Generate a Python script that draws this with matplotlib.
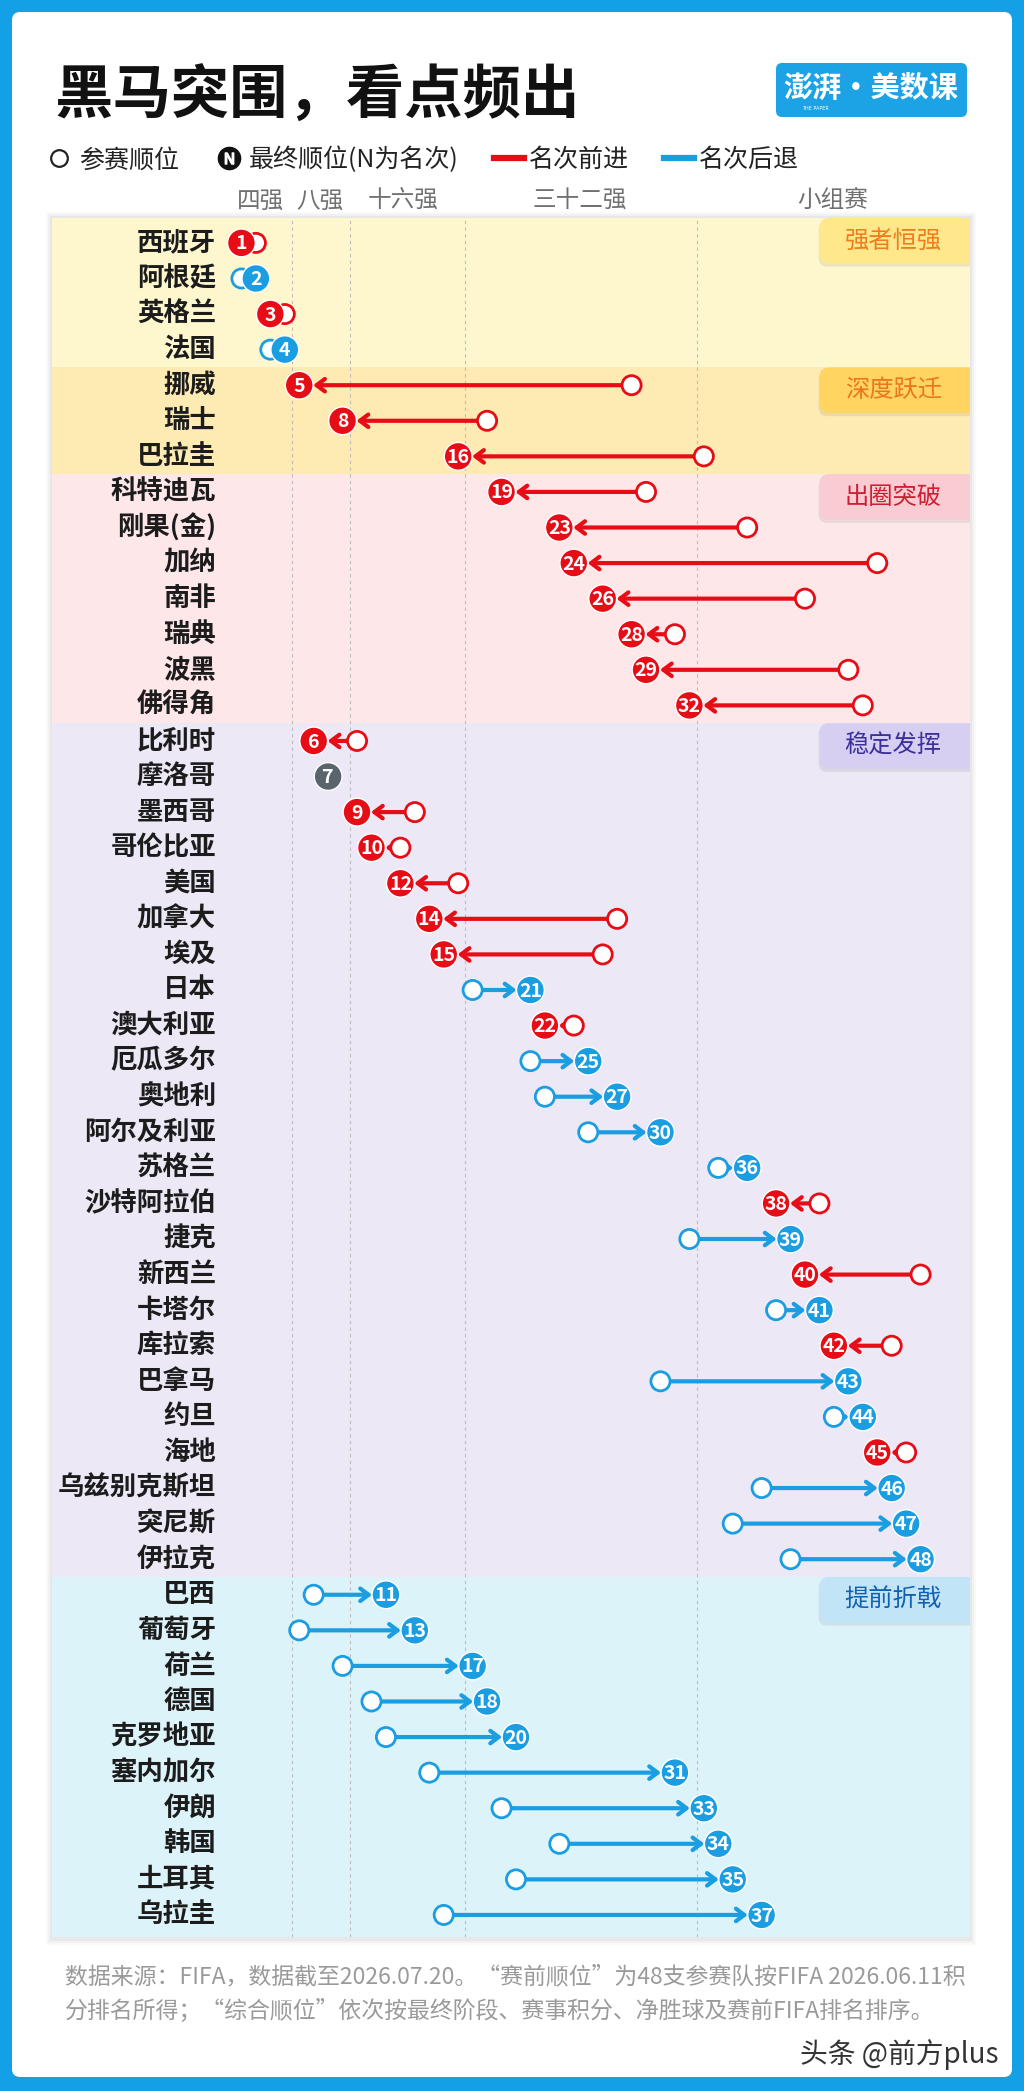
"""Dark horses chart: pre-tournament rank vs final rank"""
import matplotlib
matplotlib.use("Agg")
import numpy as np
import matplotlib.pyplot as plt
from matplotlib import font_manager
from matplotlib.lines import Line2D
from matplotlib.patches import FancyBboxPatch, Rectangle
from matplotlib.legend_handler import HandlerTuple

plt.rcParams["font.family"] = ["Noto Sans CJK SC", "DejaVu Sans"]

TEAMS = [
    "西班牙", "阿根廷", "英格兰", "法国",
    "挪威", "瑞士", "巴拉圭",
    "科特迪瓦", "刚果(金)", "加纳", "南非", "瑞典", "波黑", "佛得角",
    "比利时", "摩洛哥", "墨西哥", "哥伦比亚", "美国", "加拿大", "埃及", "日本",
    "澳大利亚", "厄瓜多尔", "奥地利", "阿尔及利亚", "苏格兰", "沙特阿拉伯", "捷克",
    "新西兰", "卡塔尔", "库拉索", "巴拿马", "约旦", "海地", "乌兹别克斯坦",
    "突尼斯", "伊拉克",
    "巴西", "葡萄牙", "荷兰", "德国", "克罗地亚", "塞内加尔", "伊朗", "韩国",
    "土耳其", "乌拉圭",
]
START_RANK = [
    2, 1, 4, 3,
    28, 18, 33,
    29, 36, 45, 40, 31, 43, 44,
    9, 7, 13, 12, 16, 27, 26, 17, 24, 21, 22, 25, 34, 41, 32, 48, 38, 46, 30,
    42, 47, 37, 35, 39,
    6, 5, 8, 10, 11, 14, 19, 23, 20, 15,
]
FINAL_RANK = [
    1, 2, 3, 4,
    5, 8, 16,
    19, 23, 24, 26, 28, 29, 32,
    6, 7, 9, 10, 12, 14, 15, 21, 22, 25, 27, 30, 36, 38, 39, 40, 41, 42, 43,
    44, 45, 46, 47, 48,
    11, 13, 17, 18, 20, 31, 33, 34, 35, 37,
]
GROUP_NAMES = ["强者恒强", "深度跃迁", "出圈突破", "稳定发挥", "提前折戟"]
GROUP_SIZES = [4, 3, 7, 24, 10]
STAGE_LABELS = ["四强", "八强", "十六强", "三十二强", "小组赛"]
STAGE_TICKS = [2.3, 6.4, 12.2, 24.4, 41.9]
STAGE_BOUNDS = [4.5, 8.5, 16.5, 32.5]

RED = "#E60D17"
BLUE = "#1B9DE2"
GRAY = "#59646D"
FRAME = "#13A0E6"
BAND_COLORS = ["#FEF7CE", "#FDEBB3", "#FDE7E9", "#ECE8F6", "#DDF3FA"]
BOX_COLORS = ["#FFE88C", "#FFD460", "#F9CCD4", "#D7CFF1", "#C1E4F7"]
BOX_TEXT = ["#F07D1C", "#EC7619", "#CD1F31", "#3B2F9B", "#1161B1"]

W, H = 1024, 2091


def fx(x):
    return x / W


def fy(y):
    return 1 - y / H


names = {f.name for f in font_manager.fontManager.ttflist}
NUM_FONT = "Liberation Sans Narrow" if "Liberation Sans Narrow" in names else "Noto Sans CJK SC"
NUM_SIZE = 16.5 if NUM_FONT == "Liberation Sans Narrow" else 14

fig = plt.figure(figsize=(W / 100, H / 100), dpi=100, facecolor=FRAME)

# white card inside the blue frame
fig.patches.append(FancyBboxPatch(
    (fx(12), fy(2077)), fx(1012) - fx(12), fy(12) - fy(2077),
    boxstyle="round,pad=0,rounding_size=0.008", mutation_aspect=W / H,
    transform=fig.transFigure, fc="white", ec="none", zorder=-2))

# soft shadow around the panel
for grow, alpha in [(6, 0.025), (4, 0.03), (2, 0.04)]:
    fig.patches.append(Rectangle(
        (fx(52 - grow), fy(1937 + grow + 2)),
        fx(970 + grow) - fx(52 - grow), fy(218 - grow) - fy(1937 + grow + 2),
        transform=fig.transFigure, fc="black", alpha=alpha, ec="none", zorder=-1))

ax = fig.add_axes([fx(52), fy(1937), fx(970) - fx(52), fy(218) - fy(1937)])
ax.set_zorder(1)
ax.set_xlim(-12.11, 51.42)
ax.set_ylim(47.62, -0.70)
for s in ax.spines.values():
    s.set_visible(False)
ax.set_yticks([])

# stage labels on top
ax.xaxis.tick_top()
ax.set_xticks(STAGE_TICKS, STAGE_LABELS)
ax.tick_params(axis="x", length=0, pad=4, labelsize=17, labelcolor="#707070")

# group bands
edges = np.cumsum([0] + GROUP_SIZES)
y_top, y_bot = ax.get_ylim()[1], ax.get_ylim()[0]
xpx = (970 - 52) / (ax.get_xlim()[1] - ax.get_xlim()[0])
ypx = (1937 - 218) / (y_bot - y_top)
for k in range(len(GROUP_SIZES)):
    lo = y_top if k == 0 else edges[k] - 0.5
    hi = y_bot if k == len(GROUP_SIZES) - 1 else edges[k + 1] - 0.5
    ax.axhspan(lo, hi, color=BAND_COLORS[k], lw=0, zorder=0)
    # label box at right
    bx = 41.04
    shadow = FancyBboxPatch((bx - 0.1, lo + 0.07), 12, 1.3,
                            boxstyle="round,pad=0,rounding_size=0.6",
                            mutation_aspect=xpx / ypx, fc="black", alpha=0.07,
                            ec="none", zorder=1)
    ax.add_patch(shadow)
    box = FancyBboxPatch((bx, lo), 12, 1.28,
                         boxstyle="round,pad=0,rounding_size=0.6",
                         mutation_aspect=xpx / ypx, fc=BOX_COLORS[k],
                         ec="none", zorder=1.5)
    ax.add_patch(box)
    ax.text(46.1, lo + 0.64, GROUP_NAMES[k], ha="center", va="center",
            fontsize=17.5, color=BOX_TEXT[k], fontweight="medium", zorder=2)

for b in STAGE_BOUNDS:
    ax.axvline(b, color="#BDBDBD", lw=0.8, ls=(0, (3, 3)), zorder=1)

# country names
for i, name in enumerate(TEAMS):
    ax.text((216 - 52) / (970 - 52), i, name, transform=ax.get_yaxis_transform(),
            ha="right", va="center", fontsize=19, color="#1C1C1C",
            fontweight="bold", zorder=3)

rows = np.arange(len(TEAMS))
start = np.array(START_RANK)
final = np.array(FINAL_RANK)
colors = np.where(final < start, RED, np.where(final > start, BLUE, GRAY))

for i in rows:
    if abs(final[i] - start[i]) > 1:
        ax.annotate("", xy=(final[i], i), xytext=(start[i], i),
                    arrowprops=dict(arrowstyle="->,head_length=0.6,head_width=0.45",
                                    color=colors[i], lw=3.0,
                                    shrinkA=0, shrinkB=10),
                    zorder=3)

ax.scatter(start, rows, s=190, facecolor="white", edgecolor=colors,
           linewidth=2.0, zorder=4)
ax.scatter(final, rows, s=400, facecolor=colors, edgecolor="white",
           linewidth=1.0, zorder=5)
for i in rows:
    ax.text(final[i], i + 0.03, str(final[i]), ha="center", va="center",
            color="white", fontsize=NUM_SIZE, fontweight="bold",
            family=[NUM_FONT, "DejaVu Sans"], zorder=6)

# title and logo
fig.text(fx(54), fy(97), "黑马突围，看点频出", fontsize=42, fontweight="heavy",
         color="#111111", va="center", ha="left")
fig.patches.append(FancyBboxPatch(
    (fx(776), fy(117)), fx(967) - fx(776), fy(63) - fy(117),
    boxstyle="round,pad=0,rounding_size=0.006", mutation_aspect=W / H,
    transform=fig.transFigure, fc="#1BA3E6", ec="none"))
fig.text(fx(871), fy(88), "澎湃·美数课", fontsize=21, fontweight="bold",
         color="white", ha="center", va="center")
fig.text(fx(815), fy(109), "THE PAPER", fontsize=3.5, color="white",
         ha="center", va="center", family="DejaVu Sans")

# legend
h_start = Line2D([], [], ls="", marker="o", ms=12, mfc="white", mec="#222222", mew=1.6)
h_final = (Line2D([], [], ls="", marker="o", ms=16, mfc="#111111", mec="#111111"),
           Line2D([], [], ls="", marker=r"$\mathrm{N}$", ms=8, mfc="white", mec="white"))
h_red = Line2D([], [], color=RED, lw=4.5)
h_blue = Line2D([], [], color=BLUE, lw=4.5)
fig.legend([h_start, h_final, h_red, h_blue],
           ["参赛顺位", "最终顺位(N为名次)", "名次前进", "名次后退"],
           handler_map={tuple: HandlerTuple(ndivide=1)},
           loc="center left", bbox_to_anchor=(fx(44), fy(160)), ncol=4,
           frameon=False, fontsize=18, handlelength=1.2, handletextpad=0.2,
           columnspacing=1.4, borderpad=0, borderaxespad=0,
           labelcolor="#222222")

# footnote
fig.text(fx(65), fy(1977),
         "数据来源：FIFA，数据截至2026.07.20。“赛前顺位”为48支参赛队按FIFA 2026.06.11积",
         fontsize=16.5, color="#9A9A9A", va="center", ha="left", fontweight="light")
fig.text(fx(65), fy(2011),
         "分排名所得；“综合顺位”依次按最终阶段、赛事积分、净胜球及赛前FIFA排名排序。",
         fontsize=16.5, color="#9A9A9A", va="center", ha="left", fontweight="light")
fig.text(fx(999), fy(2055), "头条 @前方plus", fontsize=20, color="#333333",
         va="center", ha="right")

fig.savefig("out.png", dpi=100, facecolor=FRAME)
